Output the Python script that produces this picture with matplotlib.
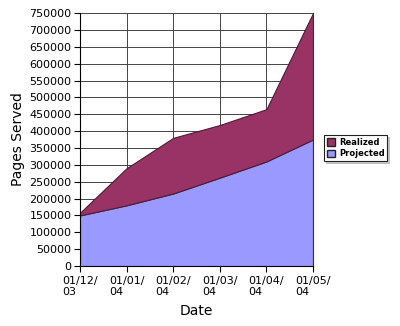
import numpy as np
import matplotlib
matplotlib.use("Agg")
import matplotlib.pyplot as plt
from matplotlib.patches import Patch

# data
dates = ["01/12/\n03", "01/01/\n04", "01/02/\n04", "01/03/\n04", "01/04/\n04", "01/05/\n04"]
projected = [150000, 180000, 215000, 262000, 310000, 375000]
realized = [158000, 290000, 380000, 418000, 465000, 750000]

x = np.arange(len(dates))

fig = plt.figure(figsize=(4, 3.26), dpi=100)
ax = fig.add_axes([0.2, 0.184, 0.5825, 0.776])

ax.fill_between(x, 0, projected, facecolor="#9999ff", edgecolor="#333366", linewidth=0.8, zorder=2)
ax.fill_between(x, projected, realized, facecolor="#993366", edgecolor="#4d1a33", linewidth=0.8, zorder=2)

ax.set_xlim(0, len(dates) - 1)
ax.set_ylim(0, 750000)
ax.set_yticks(np.arange(0, 750001, 50000))
ax.set_xticks(x)
ax.set_xticklabels(dates, ha="center", multialignment="left", fontsize=8)
ax.tick_params(axis="x", pad=3, length=4)
ax.tick_params(axis="y", labelsize=8, length=4, pad=2)

ax.grid(True, color="#444444", linewidth=0.7, zorder=1)
ax.set_axisbelow(True)
ax.spines["top"].set_visible(False)
ax.spines["right"].set_color("#333333")

ax.set_ylabel("Pages Served", fontsize=10, labelpad=3)
ax.set_xlabel("Date", fontsize=10, labelpad=5)

handles = [Patch(facecolor="#993366", edgecolor="#222222", label="Realized"),
           Patch(facecolor="#9999ff", edgecolor="#222222", label="Projected")]
leg = fig.legend(handles=handles, loc="center left", bbox_to_anchor=(0.8, 0.546),
                 prop={"size": 6, "weight": "bold"}, frameon=True, fancybox=False,
                 shadow={"ox": 1.2, "oy": -1.2, "color": "#999999"},
                 edgecolor="#222222", handlelength=1.0, handleheight=1.0,
                 handletextpad=0.4, borderpad=0.35, labelspacing=0.3)
leg.get_frame().set_linewidth(0.8)

fig.savefig("out.png", dpi=100)
